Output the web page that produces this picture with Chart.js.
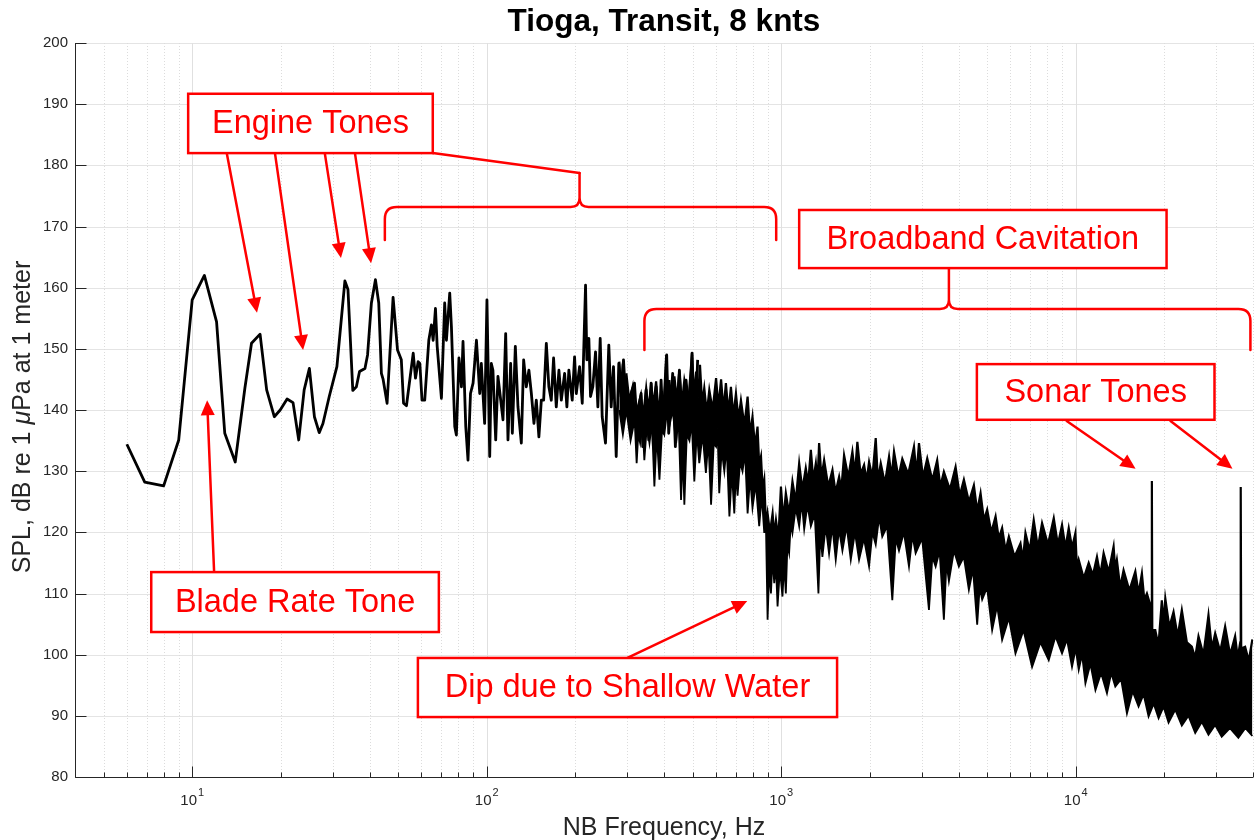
<!DOCTYPE html>
<html>
<head>
<meta charset="utf-8">
<script src="https://cdn.jsdelivr.net/npm/chart.js@4.4.1/dist/chart.umd.min.js"></script>
<style>
  html, body { margin: 0; padding: 0; background: #fff; }
  canvas { display: block; }
</style>
</head>
<body>
<canvas id="chart" width="1256" height="840"></canvas>
<script>
const FONT = '"Liberation Sans", Arial, Helvetica, sans-serif';
const INK = '#262626';
const RED = '#ff0000';

// tonal / low-frequency part of the spectrum (Hz, dB)
const lowFreq = [6.0, 6.9, 8.0, 9.0, 10.0, 11.0, 12.1, 12.9, 14.0, 15.1, 15.9, 17.0, 17.9, 19.0, 19.9,
  21.0, 22.0, 23.0, 24.0, 25.0, 26.0, 27.0, 27.8, 29.2, 31.0, 33.0, 33.8, 35.1, 36.1, 37.0, 38.6, 39.4,
  40.6, 41.9, 43.0, 43.9, 44.5, 45.9, 48.1, 49.8, 51.3, 52.2, 53.4, 56.3, 57.3, 58.5, 59.3, 60.3, 61.6,
  63.6, 64.9, 65.8, 67.0, 67.9, 70.2, 72.0, 73.0, 74.9, 75.9, 77.9, 78.9, 80.5, 82.1, 83.1, 84.9, 86.4,
  88.1, 89.9, 92.3, 94.7, 95.9, 98.4, 100.2, 102.4, 103.7, 105.0, 107.3, 109.2, 113.6, 116.0, 118.1,
  120.6, 122.2, 125.1, 127.7, 131.1, 133.5, 136.3, 139.1, 141.8, 144.7, 147.4, 150.4, 153.3, 156.1,
  159.4, 162.6, 165.7, 168.7, 172.3, 175.9, 179.2, 183.9, 187.2, 190.1, 195.2, 198.8, 201.5, 206.7,
  211.1, 216.6, 218.8, 222.3, 225.2, 229.3, 234.2, 238.5, 242.9, 246.7, 253.2, 259.8, 264.7, 269.5,
  275.3, 280.9, 286.2, 291.4, 297.6, 303.7, 317.5, 323.2, 334.5, 338.7, 347.8, 354.9, 361.6, 368.2,
  376.1, 383.8, 391.0, 398.1, 408.5, 415.0, 428.1, 437.2, 451.1, 462.9, 475.3, 487.7, 498.1, 507.2, 520.4];
const lowSpl = [134.4, 128.2, 127.6, 135.1, 158.0, 162.0, 154.4, 136.2, 131.5, 143.6, 150.9, 152.4, 143.3, 138.9, 140.0,
  141.8, 141.2, 135.1, 143.3, 146.8, 138.9, 136.3, 137.8, 142.2, 147.1, 161.1, 159.7, 143.2, 143.8, 146.3, 146.8, 149.0,
  157.5, 161.3, 157.5, 146.0, 145.0, 141.1, 158.4, 149.8, 148.2, 141.1, 140.7, 149.3, 145.2, 147.9, 147.6, 141.6, 141.6,
  151.4, 153.9, 151.4, 156.6, 150.4, 141.9, 157.5, 151.4, 159.1, 153.6, 137.3, 135.9, 148.5, 143.8, 151.2, 137.3, 131.8,
  142.7, 144.4, 151.4, 142.7, 147.6, 137.8, 158.0, 132.4, 147.6, 146.5, 135.1, 145.5, 138.4, 152.5, 135.1,
  147.6, 136.2, 150.4, 140.5, 134.6, 148.2, 143.8, 146.5, 142.7, 137.8, 141.6, 135.6, 141.6, 141.6,
  150.9, 143.8, 141.6, 148.5, 140.5, 146.5, 141.6, 146.0, 140.5, 146.5, 141.6, 148.7, 142.7, 147.1,
  141.1, 160.4, 148.2, 151.7, 142.2, 143.8, 149.5, 140.5, 151.7, 138.9, 134.6, 150.6, 140.5, 147.1,
  132.4, 147.6, 142.2, 148.2, 140.5, 141.6, 144.4, 138.4, 142.7, 134.0, 143.3, 135.1, 144.4, 134.0,
  143.8, 135.1, 144.9, 136.2, 149.0, 136.2, 146.0, 134.0, 146.5, 136.2, 144.9, 138.9, 149.3, 134.0, 148.2];

// dense broadband part: upper edge of the noise band
const upperFreq = [282, 286, 290, 294, 298, 305, 313, 318, 322, 328, 334, 340, 348, 354, 362, 368, 376, 383, 391, 399,
  407, 412, 417, 425, 434, 442, 451, 460, 469, 484, 498, 506, 514, 522, 530, 539, 548, 559, 570, 585,
  601, 612, 625, 637, 649, 662, 675, 688, 702, 716, 730, 750, 769, 784, 799, 815, 831, 842, 854, 865,
  876, 888, 899, 916, 935, 947, 960, 978, 998, 1017, 1037, 1064, 1092, 1120, 1151, 1180, 1212, 1235, 1261, 1285,
  1311, 1328, 1345, 1370, 1399, 1445, 1493, 1530, 1573, 1600, 1635, 1690, 1745, 1780, 1814, 1860, 1912, 1950, 1988, 2040,
  2094, 2130, 2178, 2250, 2324, 2370, 2416, 2500, 2578, 2700, 2824, 2880, 2937, 3030, 3133, 3260, 3386, 3470, 3568, 3740,
  3910, 4040, 4172, 4340, 4511, 4630, 4753, 4880, 5005, 5170, 5345, 5480, 5626, 5780, 5930, 6200, 6494, 6620, 6752, 6980,
  7203, 7440, 7688, 8050, 8424, 8700, 8987, 9230, 9470, 9720, 9977, 10100, 10240, 10650, 11070, 11440, 11810, 12120, 12440, 12940,
  13450, 13620, 13800, 14160, 14540, 15220, 15940, 16350, 16780, 17100, 17450, 17920, 18080, 18140, 18200, 18630, 19100, 19610, 19880, 20150,
  20800, 21490, 22200, 22930, 23850, 24790, 25450, 26120, 27160, 28240, 29000, 29760, 30950, 32170, 33450, 34780, 35500, 36200, 36340, 36480,
  37610, 38700, 39800];
const upperSpl = [147.9, 143.5, 147.6, 142.0, 146.0, 141.5, 143.8, 139.5, 139.5, 141.0, 142.5, 139.0, 143.6, 140.0, 144.4, 140.5, 144.7, 140.0, 142.6, 141.0,
  149.0, 142.0, 144.9, 141.0, 145.5, 141.5, 146.5, 141.0, 144.9, 141.5, 149.3, 142.0, 146.3, 142.0, 147.4, 141.0, 143.6, 139.5, 143.3, 140.0,
  145.2, 140.5, 145.0, 140.0, 144.4, 139.5, 143.8, 139.0, 142.7, 138.5, 141.6, 137.5, 142.2, 136.0, 138.9, 134.0, 137.3, 131.0, 132.4, 127.0,
  128.6, 121.0, 123.1, 120.0, 123.1, 119.5, 122.0, 119.0, 127.5, 122.0, 126.4, 123.0, 128.3, 125.0, 131.3, 127.0, 130.5, 128.0, 133.5, 128.5,
  131.3, 128.0, 134.6, 129.0, 131.8, 127.5, 130.2, 126.5, 129.1, 127.0, 132.6, 129.0, 133.2, 129.5, 134.8, 129.5, 131.0, 128.5, 131.5, 129.0,
  135.4, 128.5, 131.3, 128.0, 132.4, 129.0, 133.2, 129.0, 132.0, 129.5, 134.0, 129.5, 134.6, 129.0, 132.1, 128.5, 131.8, 127.5, 129.9, 127.0,
  130.7, 126.0, 128.6, 125.0, 127.7, 123.5, 126.4, 122.0, 123.7, 120.0, 122.6, 119.0, 120.7, 117.0, 119.3, 116.0, 118.2, 115.5, 119.9, 117.0,
  122.0, 117.5, 121.5, 118.0, 122.3, 118.0, 121.2, 117.5, 120.7, 117.5, 119.9, 114.0, 115.5, 112.5, 115.0, 113.0, 116.0, 113.0, 116.6, 113.5,
  117.7, 114.0, 115.5, 111.0, 113.8, 110.5, 113.6, 110.0, 113.3, 109.0, 110.0, 108.1, 107.0, 128.4, 104.0, 104.0, 101.5, 108.9, 105.0, 109.2,
  104.5, 107.0, 103.0, 107.3, 102.0, 101.3, 99.5, 103.0, 100.0, 106.5, 101.0, 103.5, 100.5, 104.6, 100.0, 103.0, 99.5, 102.0, 127.4, 101.0,
  101.3, 99.0, 102.5];

// dense broadband part: lower edge of the noise band
const lowerFreq = [282, 290, 298, 308, 318, 323, 327, 332, 338, 343, 350, 357, 364, 371, 378, 386, 394, 401, 409, 417,
  428, 440, 448, 457, 463, 469, 478, 488, 497, 507, 517, 527, 541, 555, 566, 578, 590, 601, 608, 616,
  628, 641, 653, 667, 680, 693, 702, 711, 725, 739, 754, 769, 784, 799, 820, 842, 859, 876, 887, 899,
  911, 923, 935, 947, 959, 972, 990, 1010, 1024, 1037, 1050, 1064, 1078, 1092, 1120, 1151, 1174, 1197, 1228, 1261,
  1300, 1338, 1358, 1380, 1416, 1454, 1492, 1532, 1572, 1614, 1668, 1723, 1780, 1838, 1910, 1988, 2040, 2094, 2150, 2204,
  2290, 2384, 2450, 2512, 2610, 2716, 2790, 2861, 3010, 3175, 3260, 3345, 3450, 3568, 3640, 3711, 3860, 4012, 4170, 4338,
  4480, 4629, 4720, 4813, 5000, 5204, 5410, 5626, 5930, 6245, 6650, 7111, 7590, 8100, 8540, 8987, 9340, 9716, 10000, 10240,
  10510, 10790, 11220, 11670, 12200, 12770, 13200, 13630, 14260, 14930, 15620, 16350, 17000, 17680, 18400, 19120, 19880, 20670, 21770, 22930,
  24150, 25460, 26800, 28240, 29750, 31320, 33400, 35680, 37700, 39800];
const lowerSpl = [140.0, 136.0, 140.0, 135.0, 138.4, 131.3, 136.0, 134.6, 138.0, 131.8, 137.5, 134.6, 138.0, 127.5, 136.0, 128.6, 137.0, 136.0, 139.5, 137.3,
  140.0, 134.6, 139.0, 125.3, 133.0, 124.5, 136.0, 135.0, 138.0, 128.3, 136.5, 131.3, 136.0, 129.7, 135.0, 124.5, 134.5, 134.0, 137.0, 126.4,
  133.5, 130.0, 134.0, 122.6, 130.0, 123.1, 130.0, 126.0, 131.5, 130.0, 133.0, 123.1, 129.0, 124.0, 128.0, 121.0, 126.0, 119.9, 122.0, 105.7,
  114.0, 110.0, 116.0, 111.7, 115.0, 107.9, 114.0, 109.5, 115.0, 110.0, 118.0, 116.6, 121.5, 119.9, 124.0, 121.0, 125.0, 120.5, 124.5, 121.0,
  123.0, 110.0, 120.0, 116.0, 121.0, 116.5, 121.0, 115.5, 120.5, 117.0, 121.0, 115.5, 120.0, 115.5, 119.0, 114.4, 120.0, 118.0, 122.5, 119.3,
  121.0, 108.9, 119.0, 117.0, 120.0, 114.4, 119.5, 116.6, 119.0, 107.3, 116.0, 114.4, 117.0, 105.7, 115.0, 112.0, 117.0, 114.4, 116.0, 110.6,
  114.0, 104.9, 111.0, 109.0, 111.0, 104.0, 108.0, 102.4, 106.0, 100.2, 104.0, 98.0, 102.0, 99.1, 103.0, 100.2, 102.5, 98.0, 101.0, 97.5,
  100.0, 95.3, 98.5, 94.2, 97.0, 93.7, 97.0, 94.8, 96.0, 90.4, 94.0, 91.5, 93.5, 89.9, 92.0, 89.6, 91.5, 88.9, 91.0, 88.4,
  90.0, 87.2, 89.0, 86.9, 88.5, 86.6, 88.0, 86.4, 88.0, 86.7];

const yMin = 80, yMax = 200, yStep = 10;
const xMin = 4, xMax = 40000;
const decades = [1, 10, 100, 1000, 10000];

// annotations, placed in data units (Hz, dB)
const labelBoxes = [
  { text: 'Engine Tones', f: [9.69, 65.6], db: [191.7, 182.0] },
  { text: 'Broadband Cavitation', f: [1151, 20350], db: [172.7, 163.2] },
  { text: 'Sonar Tones', f: [4618, 29600], db: [147.5, 138.4] },
  { text: 'Blade Rate Tone', f: [7.26, 68.8], db: [113.5, 103.7] },
  { text: 'Dip due to Shallow Water', f: [58.4, 1548], db: [99.46, 89.8] }
];
const arrows = [
  { from: [13.1, 182.0], to: [16.6, 155.9] },
  { from: [19.1, 182.0], to: [23.8, 149.8] },
  { from: [28.2, 182.0], to: [32.0, 164.85] },
  { from: [35.7, 182.0], to: [40.5, 164.0] },
  { from: [9322, 138.2], to: [15970, 130.4] },
  { from: [20990, 138.2], to: [34060, 130.4] },
  { from: [11.87, 113.5], to: [11.24, 141.6] },
  { from: [300.6, 99.46], to: [766.9, 108.78] }
];
const leaders = [
  { from: [65.6, 182.0], to: [206.7, 178.75] }
];
const braces = [
  { f: [45.1, 961.7], tip: 206.7, dbBar: 173.2, dbEnd: 167.8, dbTip: 178.75 },
  { f: [343.2, 39200], tip: 3711, dbBar: 156.5, dbEnd: 149.8, dbTip: 163.2 }
];

function pairs(xs, ys) {
  return xs.map((x, i) => ({ x: x, y: ys[i] }));
}

function drawArrow(ctx, x0, y0, x1, y1) {
  const ang = Math.atan2(y1 - y0, x1 - x0);
  const len = 15, half = 7;
  const bx = x1 - len * Math.cos(ang), by = y1 - len * Math.sin(ang);
  ctx.beginPath();
  ctx.moveTo(x0, y0);
  ctx.lineTo(bx, by);
  ctx.stroke();
  ctx.beginPath();
  ctx.moveTo(x1, y1);
  ctx.lineTo(bx + half * Math.sin(ang), by - half * Math.cos(ang));
  ctx.lineTo(bx - half * Math.sin(ang), by + half * Math.cos(ang));
  ctx.closePath();
  ctx.fill();
}

function drawBrace(ctx, xL, xR, xT, yBar, yEnd, yTip) {
  const r = 12, rc = 9;
  ctx.beginPath();
  ctx.moveTo(xL, yEnd);
  ctx.lineTo(xL, yBar + r);
  ctx.quadraticCurveTo(xL, yBar, xL + r, yBar);
  ctx.lineTo(xT - rc, yBar);
  ctx.quadraticCurveTo(xT, yBar, xT, yBar - rc);
  ctx.lineTo(xT, yTip);
  ctx.moveTo(xT, yBar - rc);
  ctx.quadraticCurveTo(xT, yBar, xT + rc, yBar);
  ctx.lineTo(xR - r, yBar);
  ctx.quadraticCurveTo(xR, yBar, xR, yBar + r);
  ctx.lineTo(xR, yEnd);
  ctx.stroke();
}

const decorPlugin = {
  id: 'decor',
  beforeDatasetsDraw(chart) {
    const { ctx, chartArea: a, scales: { x, y } } = chart;
    ctx.save();
    ctx.lineWidth = 1;
    // horizontal major grid
    ctx.strokeStyle = '#e4e4e4';
    for (let v = yMin; v <= yMax; v += yStep) {
      const py = Math.round(y.getPixelForValue(v)) + 0.5;
      ctx.beginPath(); ctx.moveTo(a.left, py); ctx.lineTo(a.right, py); ctx.stroke();
    }
    // vertical grid: decades solid, minor dotted
    decades.forEach(d => {
      for (let m = 1; m <= 9; m++) {
        const f = m * d;
        if (f < xMin || f > xMax) continue;
        const px = Math.round(x.getPixelForValue(f)) + 0.5;
        ctx.strokeStyle = m === 1 ? '#e0e0e0' : '#dcdcdc';
        ctx.setLineDash(m === 1 ? [] : [1, 2]);
        ctx.beginPath(); ctx.moveTo(px, a.top); ctx.lineTo(px, a.bottom); ctx.stroke();
      }
    });
    ctx.restore();
  },
  afterDatasetsDraw(chart) {
    const { ctx, chartArea: a, scales: { x, y } } = chart;
    const X = f => x.getPixelForValue(f);
    const Y = v => y.getPixelForValue(v);
    ctx.save();

    // axes and inward ticks
    ctx.strokeStyle = INK;
    ctx.lineWidth = 1;
    const ax = Math.round(a.left) + 0.5, ay = Math.round(a.bottom) + 0.5;
    ctx.beginPath();
    ctx.moveTo(ax, a.top); ctx.lineTo(ax, ay); ctx.lineTo(a.right, ay);
    for (let v = yMin; v <= yMax; v += yStep) {
      const py = Math.round(Y(v)) + 0.5;
      ctx.moveTo(ax, py); ctx.lineTo(ax + 11, py);
    }
    decades.forEach(d => {
      for (let m = 1; m <= 9; m++) {
        const f = m * d;
        if (f < xMin || f > xMax) continue;
        const px = Math.round(X(f)) + 0.5;
        ctx.moveTo(px, ay); ctx.lineTo(px, ay - (m === 1 ? 11 : 5));
      }
    });
    ctx.stroke();

    // x tick labels 10^n
    ctx.fillStyle = INK;
    ctx.textBaseline = 'alphabetic';
    ctx.textAlign = 'left';
    decades.forEach(d => {
      if (d < xMin) return;
      const exp = String(Math.round(Math.log10(d)));
      ctx.font = '15px ' + FONT;
      const wb = ctx.measureText('10').width;
      ctx.font = '11px ' + FONT;
      const we = ctx.measureText(exp).width;
      const x0 = X(d) - (wb + we + 1) / 2;
      ctx.font = '15px ' + FONT;
      ctx.fillText('10', x0, a.bottom + 28);
      ctx.font = '11px ' + FONT;
      ctx.fillText(exp, x0 + wb + 1, a.bottom + 19);
    });

    // axis titles
    ctx.font = '25px ' + FONT;
    ctx.textAlign = 'center';
    ctx.fillText('NB Frequency, Hz', (a.left + a.right) / 2, a.bottom + 58);

    ctx.save();
    ctx.translate(30, (a.top + a.bottom) / 2 + 7);
    ctx.rotate(-Math.PI / 2);
    const parts = [['SPL, dB re 1 ', '25px '], ['\u03bc', 'italic 25px '], ['Pa at 1 meter', '25px ']];
    let total = 0;
    parts.forEach(p => { ctx.font = p[1] + FONT; total += ctx.measureText(p[0]).width; });
    let cx = -total / 2;
    ctx.textAlign = 'left';
    parts.forEach(p => { ctx.font = p[1] + FONT; ctx.fillText(p[0], cx, 0); cx += ctx.measureText(p[0]).width; });
    ctx.restore();

    // title
    ctx.fillStyle = '#000';
    ctx.font = 'bold 31.5px ' + FONT;
    ctx.textAlign = 'center';
    ctx.fillText('Tioga, Transit, 8 knts', (a.left + a.right) / 2, 31);

    // annotations
    ctx.strokeStyle = RED;
    ctx.fillStyle = RED;
    ctx.lineWidth = 2.5;
    ctx.lineCap = 'round';
    ctx.lineJoin = 'round';
    braces.forEach(b => drawBrace(ctx, X(b.f[0]), X(b.f[1]), X(b.tip), Y(b.dbBar), Y(b.dbEnd), Y(b.dbTip)));
    leaders.forEach(l => {
      ctx.beginPath(); ctx.moveTo(X(l.from[0]), Y(l.from[1])); ctx.lineTo(X(l.to[0]), Y(l.to[1])); ctx.stroke();
    });
    arrows.forEach(r => drawArrow(ctx, X(r.from[0]), Y(r.from[1]), X(r.to[0]), Y(r.to[1])));
    ctx.lineCap = 'butt';
    ctx.lineJoin = 'miter';
    labelBoxes.forEach(b => {
      const l = X(b.f[0]), r = X(b.f[1]), t = Y(b.db[0]), btm = Y(b.db[1]);
      ctx.fillStyle = '#fff';
      ctx.fillRect(l, t, r - l, btm - t);
      ctx.strokeStyle = RED;
      ctx.strokeRect(l, t, r - l, btm - t);
      ctx.fillStyle = RED;
      ctx.font = '32.5px ' + FONT;
      ctx.textAlign = 'center';
      ctx.textBaseline = 'middle';
      ctx.fillText(b.text, (l + r) / 2, (t + btm) / 2 + 1);
    });
    ctx.restore();
  }
};

new Chart(document.getElementById('chart'), {
  type: 'line',
  data: {
    datasets: [
      { label: 'tonal', data: pairs(lowFreq, lowSpl), borderColor: '#000', borderWidth: 2.8,
        pointRadius: 0, fill: false, borderJoinStyle: 'round' },
      { label: 'band upper', data: pairs(upperFreq, upperSpl), borderColor: '#000', borderWidth: 2.2,
        pointRadius: 0, fill: false },
      { label: 'band lower', data: pairs(lowerFreq, lowerSpl), borderColor: '#000', borderWidth: 1.8,
        pointRadius: 0, fill: '-1', backgroundColor: '#000' }
    ]
  },
  options: {
    responsive: false,
    animation: false,
    devicePixelRatio: 1,
    layout: { padding: { top: 43, right: 3, left: 0, bottom: 0 } },
    plugins: { legend: { display: false }, tooltip: { enabled: false }, title: { display: false } },
    scales: {
      x: {
        type: 'logarithmic', min: xMin, max: xMax,
        grid: { display: false, drawTicks: false }, border: { display: false },
        ticks: { display: false },
        afterFit(s) { s.height = 63; }
      },
      y: {
        min: yMin, max: yMax,
        grid: { display: false, drawTicks: false }, border: { display: false },
        ticks: { stepSize: yStep, color: INK, font: { family: FONT, size: 15 }, padding: 7 },
        afterFit(s) { s.width = 75; }
      }
    }
  },
  plugins: [decorPlugin]
});
</script>
</body>
</html>
